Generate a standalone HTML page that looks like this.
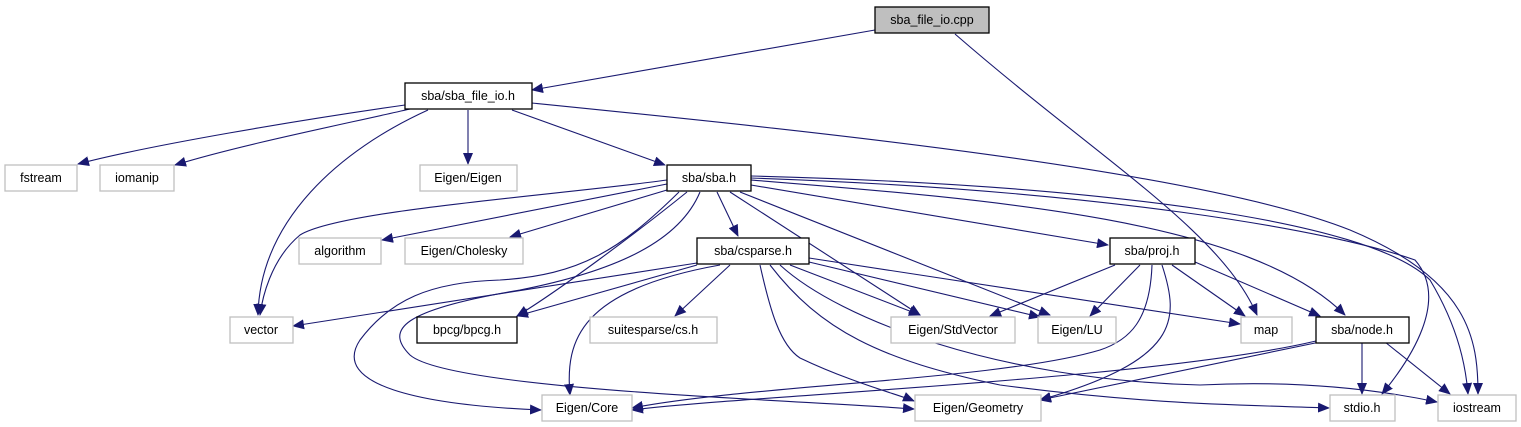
<!DOCTYPE html>
<html><head><meta charset="utf-8"><style>
html,body{margin:0;padding:0;background:#fff;}
svg{display:block;}
text{font-family:"Liberation Sans","DejaVu Sans",sans-serif;font-size:12.5px;fill:#000;text-anchor:middle;}
.g{fill:#fff;stroke:#bfbfbf;stroke-width:1.3;}
.b{fill:#fff;stroke:#000;stroke-width:1.3;}
path{fill:none;stroke:#191970;stroke-width:1.1;marker-end:url(#a);}
</style></head><body>
<svg width="1521" height="427" viewBox="0 0 1521 427">
<defs><marker id="a" markerWidth="12" markerHeight="10" refX="11" refY="5" orient="auto" markerUnits="userSpaceOnUse"><polygon points="0,0 12,5 0,10" fill="#191970" stroke="none"/></marker></defs>
<path d="M875,30 L532,90"/>
<path d="M955,34 C1100,160 1220,230 1257,315"/>
<path d="M405,105 C300,120 150,145 78,164"/>
<path d="M410,109 C340,125 240,145 175,165"/>
<path d="M428,110 C340,150 260,220 258,315"/>
<path d="M468,110 L468,164"/>
<path d="M512,110 L665,165"/>
<path d="M532,103 C800,130 1200,170 1350,230 C1470,280 1478,340 1478,394"/>
<path d="M667,180 C560,195 340,210 300,235 C270,260 262,300 260,315"/>
<path d="M667,184 L382,240"/>
<path d="M667,190 L510,237"/>
<path d="M717,192 L738,236"/>
<path d="M687,192 C640,230 560,290 517,316"/>
<path d="M679,192 C620,250 580,275 500,280 C430,282 390,300 360,340 C330,385 420,405 541,410"/>
<path d="M700,192 C680,240 620,270 520,290 C400,310 385,330 410,355 C450,390 800,400 914,409"/>
<path d="M730,192 L920,315"/>
<path d="M740,192 L1050,315"/>
<path d="M751,185 L1108,245"/>
<path d="M751,180 C1000,200 1250,220 1345,315"/>
<path d="M751,178 C1100,190 1330,230 1415,260 C1450,300 1410,360 1382,394"/>
<path d="M751,176 C1100,185 1370,220 1430,280 C1460,330 1466,370 1468,394"/>
<path d="M697,263 L293,326"/>
<path d="M697,265 L517,316"/>
<path d="M730,265 L675,316"/>
<path d="M720,265 C580,290 565,340 570,395"/>
<path d="M790,265 L920,315"/>
<path d="M809,262 L1040,317"/>
<path d="M809,258 L1240,324"/>
<path d="M760,265 C770,310 780,345 800,358 C850,382 900,395 914,401"/>
<path d="M770,265 C820,330 880,360 1000,385 C1150,405 1250,405 1329,408"/>
<path d="M780,265 C840,320 1000,380 1200,385 C1300,380 1380,390 1437,402"/>
<path d="M1115,265 L990,316"/>
<path d="M1140,265 L1090,316"/>
<path d="M1172,265 L1245,316"/>
<path d="M1195,262 L1320,316"/>
<path d="M1152,265 C1150,320 1130,340 1100,350 C1000,380 750,385 632,408"/>
<path d="M1162,265 C1180,320 1180,360 1040,400"/>
<path d="M1316,341 C1150,380 750,395 632,410"/>
<path d="M1320,342 L1040,400"/>
<path d="M1362,342 L1362,394"/>
<path d="M1385,342 L1450,394"/>
<rect x="875" y="7" width="114" height="26" fill="#bfbfbf" stroke="#000" stroke-width="1.3"/><text x="932" y="24">sba_file_io.cpp</text>
<rect class="b" x="405" y="83" width="127" height="26"/><text x="468" y="100">sba/sba_file_io.h</text>
<rect class="g" x="5" y="165" width="72" height="26"/><text x="41" y="182">fstream</text>
<rect class="g" x="100" y="165" width="74" height="26"/><text x="137" y="182">iomanip</text>
<rect class="g" x="420" y="165" width="97" height="26"/><text x="468" y="182">Eigen/Eigen</text>
<rect class="b" x="667" y="165" width="84" height="26"/><text x="709" y="182">sba/sba.h</text>
<rect class="g" x="299" y="238" width="82" height="26"/><text x="340" y="255">algorithm</text>
<rect class="g" x="405" y="238" width="118" height="26"/><text x="464" y="255">Eigen/Cholesky</text>
<rect class="b" x="697" y="238" width="112" height="26"/><text x="753" y="255">sba/csparse.h</text>
<rect class="b" x="1110" y="238" width="85" height="26"/><text x="1152" y="255">sba/proj.h</text>
<rect class="g" x="230" y="317" width="63" height="26"/><text x="261" y="334">vector</text>
<rect class="b" x="417" y="317" width="100" height="26"/><text x="467" y="334">bpcg/bpcg.h</text>
<rect class="g" x="590" y="317" width="127" height="26"/><text x="653" y="334">suitesparse/cs.h</text>
<rect class="g" x="891" y="317" width="124" height="26"/><text x="953" y="334">Eigen/StdVector</text>
<rect class="g" x="1038" y="317" width="78" height="26"/><text x="1077" y="334">Eigen/LU</text>
<rect class="g" x="1241" y="317" width="51" height="26"/><text x="1266" y="334">map</text>
<rect class="b" x="1316" y="317" width="93" height="26"/><text x="1362" y="334">sba/node.h</text>
<rect class="g" x="542" y="395" width="90" height="26"/><text x="587" y="412">Eigen/Core</text>
<rect class="g" x="915" y="395" width="126" height="26"/><text x="978" y="412">Eigen/Geometry</text>
<rect class="g" x="1330" y="395" width="65" height="26"/><text x="1362" y="412">stdio.h</text>
<rect class="g" x="1438" y="395" width="78" height="26"/><text x="1477" y="412">iostream</text>
</svg>
</body></html>
